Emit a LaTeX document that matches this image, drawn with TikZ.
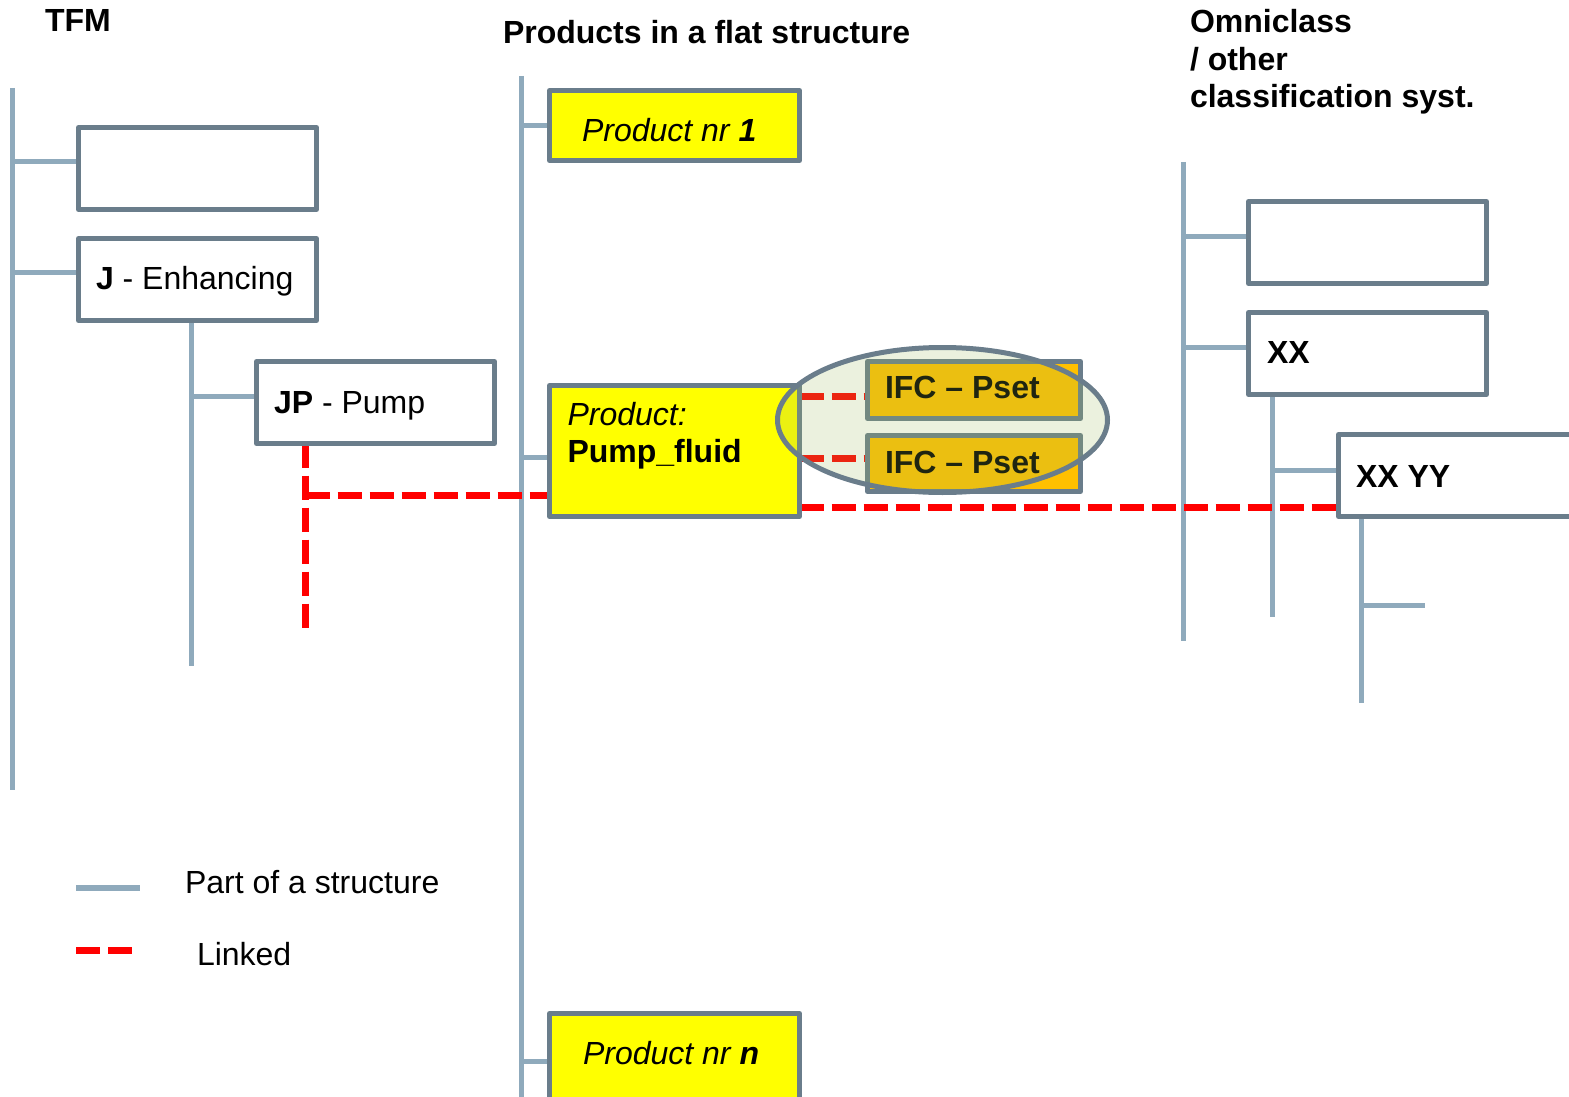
\documentclass[tikz,border=0pt]{standalone}
\usepackage{fontspec}
\setmainfont{Liberation Sans}
\usetikzlibrary{shapes.geometric,backgrounds}
\pgfdeclarelayer{foreground}
\pgfsetlayers{background,main,foreground}
\definecolor{framegray}{RGB}{106,125,139}
\definecolor{treeblue}{RGB}{143,170,188}
\definecolor{prodyellow}{RGB}{255,255,0}
\definecolor{psetorange}{RGB}{255,192,0}
\definecolor{groupgreen}{RGB}{155,187,89}
\definecolor{linkred}{RGB}{255,0,0}
\begin{document}
\begin{tikzpicture}[x=1pt,y=-1pt,
  every node/.style={font=\fontsize{32}{37}\selectfont, outer sep=0pt},
  card/.style={draw=framegray, line width=5pt, line join=round, fill=white,
    anchor=north west, inner sep=0pt, align=flush left},
  product/.style={card, fill=prodyellow},
  pset/.style={card, fill=psetorange},
  textinset/.style={execute at begin node={\leftskip=#1\relax}},
  tree/.style={draw=treeblue, line width=5pt},
  link/.style={draw=linkred, line width=7pt, dash pattern=on 24pt off 8pt},
  heading/.style={font=\fontsize{32}{37.5}\selectfont\bfseries, anchor=base west, inner sep=0pt},
  legendtext/.style={anchor=base west, inner sep=0pt},
  group/.style={ellipse, draw=framegray, line width=5pt, fill=groupgreen, fill opacity=0.2,
    minimum width=330pt, minimum height=145pt, inner sep=0pt}
]
\useasboundingbox (0,0) rectangle (1569,1097);
\clip (0,0) rectangle (1569,1097);

% column headings
\node[heading] (tfm) at (45,32) {TFM};
\node[heading] (flat) at (503,44) {Products in a flat structure};
\node[heading, text width=380pt, align=flush left] (omni) at (1190,33) {Omniclass\\/ other\\classification syst.};

% TFM tree
\node[card, minimum width=238pt, minimum height=82pt] (L1) at (78.5,127.5) {};
\node[card, textinset=17.5pt, text width=238pt, text height=50.5pt, text depth=31.5pt] (L2) at (78.5,238.5) {\textbf{J} - Enhancing};
\node[card, textinset=17.5pt, text width=238pt, text height=51.5pt, text depth=30.5pt] (L3) at (256.5,361.5) {\textbf{JP} - Pump};

% flat product list
\node[product, textinset=32.5pt, text width=250pt, text height=51.5pt, text depth=18.5pt] (P1) at (549.5,90.5) {\textit{Product nr \textbf{1}}};
\node[product, textinset=18pt, text width=250pt, text height=39.5pt, text depth=91.5pt] (P2) at (549.5,385.5) {\textit{Product:}\\\textbf{Pump\_fluid}};
\node[product, textinset=33.5pt, text width=250pt, text height=50.5pt, text depth=44.5pt] (Pn) at (549.5,1013.5) {\textit{Product nr \textbf{n}}};

% property sets
\node[pset, textinset=17.5pt, text width=213pt, text height=36.5pt, text depth=20.5pt] (I1) at (867.5,361.5) {\textbf{IFC – Pset}};
\node[pset, textinset=17.5pt, text width=213pt, text height=37.5pt, text depth=18.5pt] (I2) at (867.5,435.5) {\textbf{IFC – Pset}};

% classification tree
\node[card, minimum width=238pt, minimum height=82pt] (R1) at (1248.5,201.5) {};
\node[card, textinset=18.5pt, text width=238pt, text height=50.5pt, text depth=31.5pt] (R2) at (1248.5,312.5) {\textbf{XX}};
\node[card, textinset=17.5pt, text width=260pt, text height=52.5pt, text depth=29.5pt] (R3) at (1338.5,434.5) {\textbf{XX YY}};

% legend
\node[legendtext] (lgPart) at (185,893) {Part of a structure};
\node[legendtext] (lgLinked) at (197,965) {Linked};

% trunk ends and free line ends
\coordinate (tfmTop) at (12,88);
\coordinate (tfmBot) at (12,790);
\coordinate (jBot) at (191,666);
\coordinate (prodTop) at (521,76);
\coordinate (prodBot) at (521,1100);
\coordinate (omTop) at (1183,162);
\coordinate (omBot) at (1183,641);
\coordinate (xxBot) at (1272,617);
\coordinate (xxyyBot) at (1361,703);
\coordinate (xxyyStub) at (1425,605);
\coordinate (jpEnd) at (305.5,630);
\coordinate (P2link) at ([yshift=-44pt]P2.west);
\coordinate (lgTreeA) at (76,888);
\coordinate (lgTreeB) at (140,888);
\coordinate (lgLinkA) at (76,950);
\coordinate (lgLinkB) at (132,950);

\begin{pgfonlayer}{background}
  % TFM structure
  \draw[tree] (tfmTop) -- (tfmBot);
  \draw[tree] ([yshift=7pt]L1.west) -- ([yshift=7pt]L1.west -| tfmTop);
  \draw[tree] ([yshift=7.5pt]L2.west) -- ([yshift=7.5pt]L2.west -| tfmTop);
  \draw[tree] (L2.south -| jBot) -- (jBot);
  \draw[tree] ([yshift=6.5pt]L3.west) -- ([yshift=6.5pt]L3.west -| jBot);
  % product list
  \draw[tree] (prodTop) -- (prodBot);
  \draw[tree] (P1.west) -- (P1.west -| prodTop);
  \draw[tree] ([yshift=-6pt]P2.west) -- ([yshift=-6pt]P2.west -| prodTop);
  \draw[tree] (Pn.west) -- (Pn.west -| prodTop);
  % classification structure
  \draw[tree] (omTop) -- (omBot);
  \draw[tree] ([yshift=6.5pt]R1.west) -- ([yshift=6.5pt]R1.west -| omTop);
  \draw[tree] ([yshift=6.5pt]R2.west) -- ([yshift=6.5pt]R2.west -| omTop);
  \draw[tree] (R2.south -| xxBot) -- (xxBot);
  \draw[tree] ([yshift=5.5pt]R3.west) -- ([yshift=5.5pt]R3.west -| xxBot);
  \draw[tree] (R3.south -| xxyyBot) -- (xxyyBot);
  \draw[tree] (xxyyStub -| xxyyBot) -- (xxyyStub);
  % links
  \draw[link] (L3.south -| jpEnd) -- (jpEnd);
  \draw[link] (jpEnd |- P2link) -- (P2link);
  \draw[link] ([yshift=-6pt]I1.west -| P2.east) -- ([yshift=-6pt]I1.west);
  \draw[link] ([yshift=5.5pt]I2.west -| P2.east) -- ([yshift=5.5pt]I2.west);
  \draw[link] ([yshift=-56pt]P2.east) -- ([yshift=-56pt]P2.east -| R3.west);
  % legend samples
  \draw[tree, line width=6pt] (lgTreeA) -- (lgTreeB);
  \draw[link] (lgLinkA) -- (lgLinkB);
\end{pgfonlayer}

\begin{pgfonlayer}{foreground}
  \node[group] (psetGroup) at (942.5,420) {};
\end{pgfonlayer}
\end{tikzpicture}
\end{document}
